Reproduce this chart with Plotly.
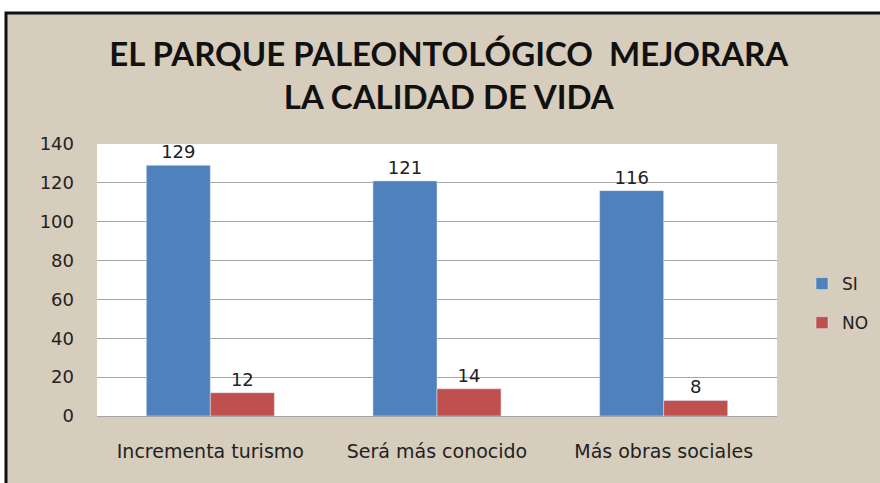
import plotly.graph_objects as go

categories = ["Incrementa turismo", "Será más conocido", "Más obras sociales"]
si_values = [129, 121, 116]
no_values = [12, 14, 8]
y_ticks = [0, 20, 40, 60, 80, 100, 120, 140]
title_text = "<b>EL PARQUE PALEONTOLÓGICO  MEJORARA<br>LA CALIDAD DE VIDA</b>"

W, H = 880, 483
L, R, T, B = 97, 103, 144, 67
pw, ph = W - L - R, H - T - B

def px_x(x):
    return (x - L) / pw

def px_y(y):
    return (H - B - y) / ph

small = "'DejaVu Sans', sans-serif"
big = "Lato, 'Open Sans', sans-serif"

fig = go.Figure()
fig.add_trace(go.Bar(name="SI", x=categories, y=si_values, marker_color="#4f81bd",
                     legendgroup="si",
                     text=si_values, textposition="outside", cliponaxis=False,
                     textfont=dict(size=18, color="#222", family=small)))
fig.add_trace(go.Bar(name="NO", x=categories, y=no_values, marker_color="#c0504d",
                     legendgroup="no",
                     text=no_values, textposition="outside", cliponaxis=False,
                     textfont=dict(size=18, color="#222", family=small)))

fig.update_layout(
    width=W, height=H,
    margin=dict(l=L, r=R, t=T, b=B, autoexpand=False),
    paper_bgcolor="white",
    plot_bgcolor="white",
    barmode="group", bargap=0.435, bargroupgap=0,
    font=dict(family=small, color="#222"),
    title=dict(text=title_text, x=0.51, xanchor="center", y=1 - 66 / H, yanchor="middle",
               font=dict(size=33, color="#111", family=big)),
    showlegend=True,
    legend=dict(x=px_x(802), y=px_y(266), xanchor="left", yanchor="top",
                font=dict(size=17, color="#222", family=small), bgcolor="rgba(0,0,0,0)",
                itemwidth=30, tracegroupgap=14),
    shapes=[
        dict(type="rect", xref="paper", yref="paper", layer="below",
             x0=px_x(6), x1=px_x(900), y0=px_y(500), y1=px_y(13),
             fillcolor="#d6cdbc", line=dict(color="#111", width=3)),
        dict(type="rect", xref="paper", yref="paper", layer="below",
             x0=0, x1=1, y0=0, y1=1, fillcolor="white", line=dict(width=0)),
    ],
)
fig.update_yaxes(range=[0, 140], tickvals=y_ticks, showgrid=True, gridcolor="#a6a6a6",
                 gridwidth=1, zeroline=False, showline=False, ticks="",
                 ticklabelstandoff=22, tickfont=dict(size=18, color="#222"))
fig.update_xaxes(showline=True, linecolor="#a6a6a6", ticks="", ticklabelstandoff=18,
                 tickfont=dict(size=19, color="#222"))

fig.write_html("out.html", config={"displayModeBar": False},
               post_script="document.body.style.margin='0';")
